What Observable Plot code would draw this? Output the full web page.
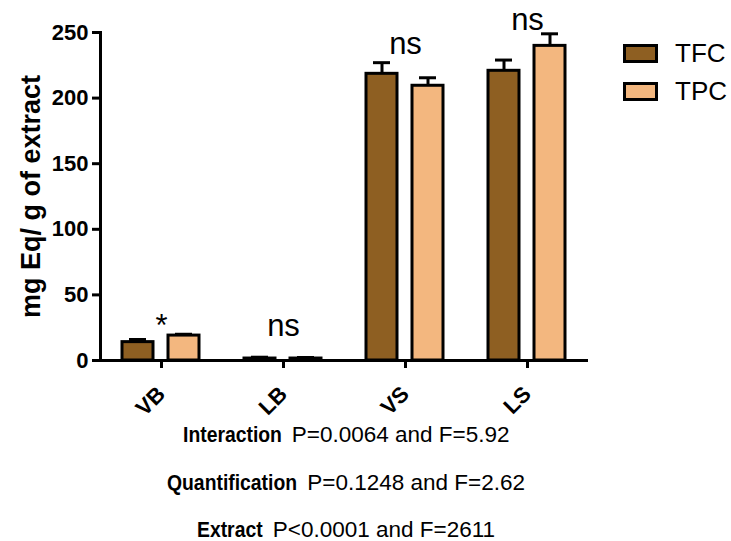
<!DOCTYPE html>
<html>
<head>
<meta charset="utf-8">
<script src="https://cdn.jsdelivr.net/npm/d3@7"></script>
<script src="https://cdn.jsdelivr.net/npm/@observablehq/plot@0.6"></script>
<style>
  html, body { margin: 0; padding: 0; background: #fff; }
  #wrap { position: relative; width: 731px; height: 541px; font-family: "Liberation Sans", Arial, sans-serif; color: #000; }
  #legend { position: absolute; left: 623px; top: 44px; }
  .item { position: absolute; left: 0; display: flex; align-items: center; white-space: nowrap; }
  .sw { width: 35px; height: 19px; box-sizing: border-box; border: 3px solid #000; }
  .lab { margin-left: 17px; font-size: 26px; line-height: 19px; }
  .cap { position: absolute; left: 0; width: 692px; text-align: center; font-size: 22.5px; line-height: 22px; white-space: nowrap; }
  .cap b { display: inline-block; font-weight: bold; transform: scaleX(0.86); transform-origin: 0 50%; }
</style>
</head>
<body>
<div id="wrap"></div>
<script>
const categories = ["VB", "LB", "VS", "LS"];
const series = ["TFC", "TPC"];
const tfc = [14, 1.5, 218.5, 220.8];
const tfcErr = [2, 1, 8.5, 8.2];
const tpc = [19, 1.5, 209.4, 239.8];
const tpcErr = [1, 0.8, 6.1, 9.2];
const sigLabels = ["*", "ns", "ns", "ns"];
const sigY = [18.3, 18.3, 233.8, 252];
const yTicks = [0, 50, 100, 150, 200, 250];
const colors = ["#8E5F22", "#F3B77F"];
const yTitle = "mg Eq/ g of extract";
const captionBold = ["Interaction", "Quantification", "Extract"];
const captionText = ["P=0.0064 and F=5.92", "P=0.1248 and F=2.62", "P<0.0001 and F=2611"];

const rows = [];
categories.forEach((c, i) => {
  rows.push({category: c, series: "TFC", value: tfc[i], err: tfcErr[i]});
  rows.push({category: c, series: "TPC", value: tpc[i], err: tpcErr[i]});
});
const notes = categories.map((c, i) => ({category: c, label: sigLabels[i], y: sigY[i]}));

const plot = Plot.plot({
  width: 731,
  height: 420,
  marginLeft: 99,
  marginRight: 142,
  marginTop: 32,
  marginBottom: 60,
  style: {fontFamily: "'Liberation Sans', Arial, sans-serif", color: "#000", background: "transparent"},
  fx: {domain: categories, paddingInner: 0, paddingOuter: 0, axis: null, label: null},
  x: {domain: series, paddingInner: 0.326, paddingOuter: 0.489, axis: null},
  y: {domain: [0, 250], axis: null},
  color: {domain: series, range: colors},
  marks: [
    Plot.barY(rows, {fx: "category", x: "series", y: "value", fill: "series", stroke: "#000", strokeWidth: 3}),
    Plot.ruleX(rows, {fx: "category", x: "series", y1: "value", y2: d => d.value + d.err, stroke: "#000", strokeWidth: 3}),
    Plot.tickY(rows, {fx: "category", x: "series", y: d => d.value + d.err, stroke: "#000", strokeWidth: 3, insetLeft: 7, insetRight: 7}),
    Plot.ruleY([0], {stroke: "#000", strokeWidth: 3}),
    Plot.frame({anchor: "left", facetAnchor: "left", stroke: "#000", strokeWidth: 3}),
    Plot.text(notes, {fx: "category", y: "y", text: "label", fontSize: 31, lineAnchor: "bottom", fill: "#000"}),
    Plot.axisY({ticks: yTicks, tickSize: 8, tickPadding: 4, strokeWidth: 3, fontSize: 22, fontWeight: "bold", label: null}),
    Plot.axisY({ticks: [], tickSize: 0, fontSize: 27, fontWeight: "bold",
      label: yTitle, labelAnchor: "center", labelArrow: "none", labelOffset: 80}),
    Plot.axisFx({anchor: "bottom", tickSize: 8, strokeWidth: 3, tickRotate: -45, fontSize: 22, fontWeight: "bold", tickPadding: 22, label: null})
  ]
});

const wrap = document.getElementById("wrap");
wrap.appendChild(plot);

const legend = document.createElement("div");
legend.id = "legend";
series.forEach((s, i) => {
  const item = document.createElement("div");
  item.className = "item";
  item.style.top = (i * 38) + "px";
  const sw = document.createElement("div");
  sw.className = "sw";
  sw.style.background = colors[i];
  const lab = document.createElement("span");
  lab.className = "lab";
  lab.textContent = s;
  item.appendChild(sw);
  item.appendChild(lab);
  legend.appendChild(item);
});
wrap.appendChild(legend);

captionBold.forEach((b, i) => {
  const line = document.createElement("div");
  line.className = "cap";
  line.style.top = (424 + i * 47.5) + "px";
  const bold = document.createElement("b");
  bold.textContent = b;
  line.appendChild(bold);
  line.appendChild(document.createTextNode(" " + captionText[i]));
  wrap.appendChild(line);
  const w = bold.getBoundingClientRect().width;
  bold.style.marginRight = (-(w / 0.86) * 0.14 + 4) + "px";
});
</script>
</body>
</html>
